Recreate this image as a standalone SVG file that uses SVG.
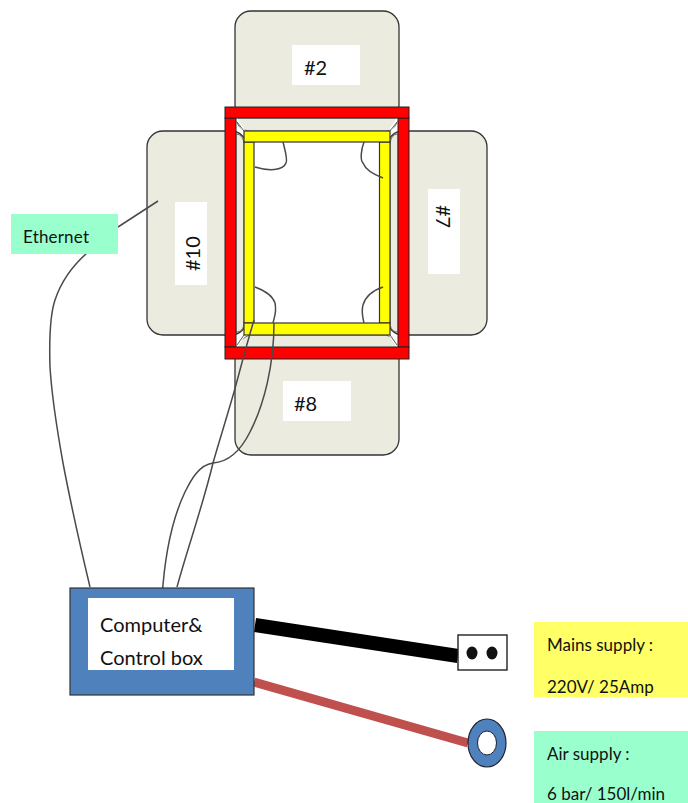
<svg xmlns="http://www.w3.org/2000/svg" width="688" height="803" viewBox="0 0 688 803">
<style>
.tab{fill:#ecebe0;stroke:#333;stroke-width:1.3}
.inner{fill:#ecebe0;stroke:#666;stroke-width:1}
.red{fill:#ff0000;stroke:#222;stroke-width:1}
.yel{fill:#ffff00;stroke:#333;stroke-width:1.2}
.lab{fill:#fff}
.w{fill:none;stroke:#4a4a4a;stroke-width:1.5}
text{font-family:"Lato","Liberation Sans",sans-serif;fill:#111}
.t{font-size:17px}
.n{font-size:20px}
.b{font-size:20px}
</style>
<g id="tab-2"><rect class="tab" x="235" y="11" width="164" height="110" rx="16"/><rect class="lab" x="292" y="45" width="68" height="40"/><text class="n" x="304" y="75">#2</text></g>
<g id="tab-8"><rect class="tab" x="235" y="345" width="164" height="110" rx="16"/><rect class="lab" x="283" y="381" width="68" height="40"/><text class="n" x="294" y="411">#8</text></g>
<g id="tab-10"><rect class="tab" x="147" y="131" width="100" height="204" rx="16"/><rect class="lab" x="175" y="202" width="32" height="83"/><text class="n" transform="translate(200 271) rotate(-90)">#10</text></g>
<g id="tab-7"><rect class="tab" x="387" y="131" width="100" height="204" rx="16"/><rect class="lab" x="428" y="189" width="32" height="85"/><text class="n" transform="translate(436 205) rotate(90)">#7</text></g>
<g id="frame">
<path class="inner" d="M236 118C238 130 244 130 250 131H386C392 130 396 128 398 118Z"/>
<path class="inner" d="M236 348C238 342 244 337 250 335H386C392 337 396 342 398 348Z"/>
<path class="inner" d="M236 134C242 134 244 140 244 146V322C244 330 240 332 236 332Z"/>
<path class="inner" d="M398 134C392 134 390 140 390 146V322C390 330 394 332 398 332Z"/>
<path d="M236 118L244 131M398 118L390 131M236 347L244 335M398 347L390 335" stroke="#fff" stroke-width="2.5"/>
<path d="M237 122L244 131M397 122L390 131M237 345L244 335M397 345L390 335" stroke="#333" stroke-width=".8"/>
<rect class="red" x="225" y="118" width="11" height="229"/>
<rect class="red" x="398" y="118" width="11" height="229"/>
<rect class="red" x="225" y="107" width="184" height="11"/>
<rect class="red" x="225" y="347" width="184" height="12"/>
<rect class="yel" x="244" y="142" width="10" height="181"/>
<rect class="yel" x="379.500" y="142" width="10.500" height="181"/>
<rect class="yel" x="244" y="131" width="146" height="11"/>
<rect class="yel" x="244" y="323" width="146" height="12"/>
</g>
<g id="connectors" fill="none">
<path class="w" d="M283 142C285 150 288 160 286 163C283 171 268 171 255 167"/>
<path class="w" d="M364 142C361 150 360 160 363 163C366 171 375 175 383 178"/>
<path class="w" d="M383 287C374 290 366 295 363 305C361 312 363 318 364 323"/>
<path class="w" d="M255 287C263 290 272 294 275 303C277 312 274 318 273 323"/>
<path class="w" d="M254 320C245 350 238 378 234 392C226 420 218 445 213 463C203 505 187 550 177 587"/>
<path class="w" d="M274 323C274 365 264 405 250 432C240 452 228 462 213 463C198 465 190 482 185 492C174 515 165 550 162 598"/>
<path class="w" d="M158 201L118 227"/>
<path class="w" d="M87 253C70 268 60 285 55 300C50 315 49 335 50 367C52 400 58 435 63 463C70 500 80 545 90 587"/>
<path d="M255 625L458 656" stroke="#000" stroke-width="14"/>
<path d="M254 682L468 743" stroke="#c0504d" stroke-width="9"/>
</g>
<g id="control-box"><rect x="70" y="588" width="184" height="107" fill="#4f81bd" stroke="#333" stroke-width="1.2"/><rect x="88" y="598" width="146" height="72" fill="#fff"/><text class="b" x="100" y="632">Computer&amp;</text><text class="b" x="100" y="665">Control box</text></g>
<g id="ethernet"><rect x="11" y="214" width="107" height="40" fill="#99ffcc"/><text class="t" x="23" y="243" textLength="66">Ethernet</text></g>
<g id="plug"><rect x="458" y="635" width="49" height="35" fill="#fff" stroke="#222" stroke-width="1.4"/><ellipse cx="472" cy="653" rx="5.500" ry="6.500" fill="#111"/><ellipse cx="492" cy="653" rx="5.500" ry="6.500" fill="#111"/></g>
<g id="air-connector"><ellipse cx="487" cy="743" rx="19" ry="24" fill="#4f81bd" stroke="#223" stroke-width="1.2"/><ellipse cx="487" cy="743" rx="9.500" ry="12" fill="#fff" stroke="#223" stroke-width="1"/></g>
<g id="mains"><rect x="534" y="622" width="154" height="75" fill="#ffff66"/><text class="t" x="547" y="651">Mains supply :</text><text class="t" x="547" y="693">220V/ 25Amp</text></g>
<g id="air"><rect x="534" y="731" width="154" height="72" fill="#99ffcc"/><text class="t" x="547" y="760">Air supply :</text><text class="t" x="547" y="800">6 bar/ 150l/min</text></g>
</svg>
